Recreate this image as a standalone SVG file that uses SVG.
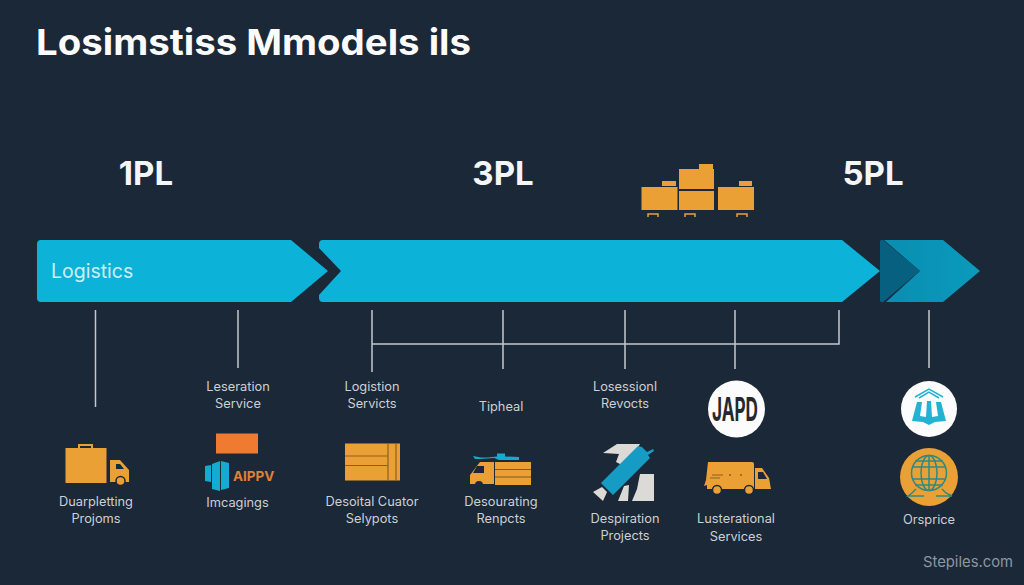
<svg xmlns="http://www.w3.org/2000/svg" width="1024" height="585" viewBox="0 0 1024 585">
<defs>
<linearGradient id="cy2" x1="0" y1="0" x2="1" y2="0"><stop offset="0" stop-color="#0a8db0"/><stop offset="1" stop-color="#0a9bbd"/></linearGradient>
</defs>
<style>
text{font-family:"Inter","Noto Sans","Liberation Sans",sans-serif}
.t{font-size:12.800px;fill:#ccd0d4;text-anchor:middle}
.h{font-size:33px;font-weight:700;fill:#f4f5f6;text-anchor:middle}
.l{stroke:#c4c8cc;stroke-width:1.500;fill:none}
.o{fill:#eba035}
.c{fill:#0db2d8}
</style>
<rect width="1024" height="585" fill="#1b2838"/>
<g id="title"><text x="36" y="55" font-size="36" font-weight="700" fill="#fbfbfb" textLength="435" lengthAdjust="spacingAndGlyphs">Losimstiss Mmodels ils</text></g>
<g id="level-1pl"><text class="h" x="146" y="185">1PL</text></g>
<g id="level-3pl"><text class="h" x="503" y="185">3PL</text></g>
<g id="level-5pl"><text class="h" x="873" y="185">5PL</text></g>
<g id="boxes">
<rect class="o" x="641.500" y="187" width="36" height="23"/>
<rect class="o" x="662" y="181" width="14" height="5"/>
<rect class="o" x="679" y="169" width="35" height="20"/>
<rect class="o" x="699" y="164" width="14" height="5"/>
<rect class="o" x="679" y="191" width="35" height="19"/>
<rect class="o" x="718" y="187" width="36" height="23"/>
<rect class="o" x="739" y="181" width="13" height="5"/>
<path d="M648 217v-3h10v3M685 217v-3h10v3M737 217v-3h10v3" stroke="#eba035" stroke-width="1.500" fill="none"/>
</g>
<g id="arrow-1"><path class="c" d="M37 244a4 4 0 0 1 4-4H291L328 271L291 302H41a4 4 0 0 1-4-4z"/><text x="51" y="278" font-size="19.500" fill="#cdeef7">Logistics</text></g>
<g id="arrow-2"><path class="c" d="M319 244a4 4 0 0 1 4-4H842L880 271L842 302H323a4 4 0 0 1-4-4v-3L341 271L319 248z"/></g>
<g id="arrow-3"><path d="M884 240H943L980 271L943 302H886L920 271z" fill="url(#cy2)"/><path d="M880 242a2 2 0 0 1 3-2L920 271L883 302a2 2 0 0 1-3-2z" fill="#07607f"/></g>
<g id="connectors">
<path class="l" d="M95.500 310V407M238 310V368M372 310V372M503 310V369M625 310V369M735 310V369M839 310V344H372M929 310V368"/>
</g>
<g id="node-duarpletting">
<path d="M79 449v-4h13v4" stroke="#eba035" stroke-width="2" fill="none"/>
<rect class="o" x="65.500" y="448" width="41" height="35"/>
<path class="o" d="M110 460h10l9 10v12h-19z"/>
<path d="M116 464h4l4 5h-8z" fill="#1b2838"/>
<circle cx="120.500" cy="481" r="4.500" class="o" stroke="#1b2838" stroke-width="1.500"/>
<text class="t" x="96" y="506">Duarpletting</text><text class="t" x="96" y="523">Projoms</text>
</g>
<g id="node-leseration">
<text class="t" x="238" y="391">Leseration</text><text class="t" x="238" y="408">Service</text>
<rect x="216" y="433.500" width="42" height="20" fill="#f07a30"/>
<path d="M205 466l6-1v17l-6-1zM212 464l8-3v30l-8-2zM221 461l8 2v25l-8 2z" fill="#15aad2"/>
<text x="233" y="481" font-size="13.500" font-weight="700" fill="#e27f35">AIPPV</text>
<text class="t" x="237.500" y="507">Imcagings</text>
</g>
<g id="node-logistion">
<text class="t" x="372" y="391">Logistion</text><text class="t" x="372" y="408">Servicts</text>
<rect class="o" x="345" y="443.500" width="55" height="37"/>
<path d="M345 456h43M345 465.500h43M388 443.500v37M396 443.500v37" stroke="#8a6020" stroke-width="1.200"/>
<text class="t" x="372" y="506">Desoital Cuator</text><text class="t" x="372" y="523">Selypots</text>
</g>
<g id="node-tipheal">
<text class="t" x="501" y="411">Tipheal</text>
<path d="M473 456l2 3h5l14-1 5 2h20v-3l-14-.500v-3h-8v3l-10 1h-6z" fill="#15aad2"/>
<path class="o" d="M480 462h14v22h-24v-9z"/>
<rect class="o" x="495" y="462" width="36" height="23"/>
<path d="M495 469.500h36M495 477h36" stroke="#7a5a25" stroke-width="1"/>
<path d="M477 466h7v7h-11z" fill="#1b2838"/>
<circle cx="479" cy="485" r="4" fill="#1b2838"/>
<text class="t" x="501" y="506">Desourating</text><text class="t" x="501" y="523">Renpcts</text>
</g>
<g id="node-losessional">
<text class="t" x="625" y="391">Losessionl</text><text class="t" x="625" y="408">Revocts</text>
<path d="M603 453l14-9h23l-14 23-10-5 3-8zM618 501l6-15 5-1-1 16zM632 501l5-12 3-15h14v27z" fill="#dbdad7"/>
<path d="M601 483l37-37 4 1 5 5 6-3 1 2-6 4 2 3-37 37z" fill="#169cc4"/>
<path d="M593 492l9-5 5 5-4 9z" fill="#dbdad7"/>
<text class="t" x="625" y="523">Despiration</text><text class="t" x="625" y="540">Projects</text>
</g>
<g id="node-lusterational">
<circle cx="736.500" cy="409" r="28.500" fill="#fcfcfc"/>
<text x="735" y="421" font-family="Liberation Sans" font-size="33" font-weight="700" fill="#25282e" text-anchor="middle" textLength="46" lengthAdjust="spacingAndGlyphs">JAPD</text>
<path class="o" d="M708 462h44a2 2 0 0 1 2 2v25h-47v-4l-3 1 2-6z"/>
<path class="o" d="M755 468h7l7 10 2 11h-16z"/>
<path d="M758 472h5l4 7h-9z" fill="#1b2838"/>
<path d="M712 475h11M710 478h10" stroke="#8a6020" stroke-width="1"/>
<circle cx="730" cy="475" r="1" fill="#8a6020"/><circle cx="741" cy="475" r="1" fill="#8a6020"/>
<circle cx="717" cy="490" r="4.500" class="o" stroke="#1b2838" stroke-width="1.500"/><circle cx="749" cy="490" r="4.500" class="o" stroke="#1b2838" stroke-width="1.500"/>
<text class="t" x="736" y="523">Lusterational</text><text class="t" x="736" y="541">Services</text>
</g>
<g id="node-orsprice">
<circle cx="929" cy="409" r="28" fill="#fcfcfc"/>
<path d="M915 397l14-8 14 8M919 398l10-6 10 6" stroke="#22b2d2" stroke-width="1.500" fill="none"/>
<path d="M912 421l5-19h5l-2 14 6 1 1-16h4l1 16 6-1-2-14h5l5 19-11 1-6 3-6-3z" fill="#22b2d2"/>
<circle cx="929" cy="477" r="29" class="o"/>
<g stroke="#2c8a86" stroke-width="1.500" fill="none">
<circle cx="929" cy="473" r="17.500"/><ellipse cx="929" cy="473" rx="8" ry="17.500"/>
<path d="M929 455.500V490.500M912 467h34M912 479h34M915 461h28M915 485h28M916 489l-4 4-4 3h16M942 489l4 4 6 3h-16"/>
</g>
<text class="t" x="929" y="524">Orsprice</text>
</g>
<g id="watermark"><text x="968" y="567" font-size="14.800" fill="#8e969e" text-anchor="middle">Stepiles.com</text></g>
</svg>
